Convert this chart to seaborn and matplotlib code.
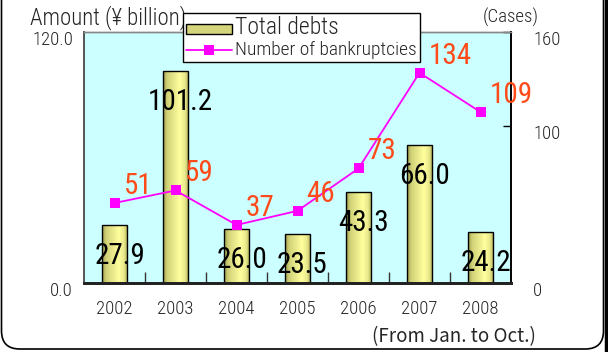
import numpy as np
import matplotlib
matplotlib.use("Agg")
import matplotlib.pyplot as plt
import matplotlib.transforms as mtransforms
from matplotlib.patches import Patch, FancyBboxPatch
from matplotlib.lines import Line2D
import seaborn as sns

# Data
years = ["2002", "2003", "2004", "2005", "2006", "2007", "2008"]
total_debts = [27.9, 101.2, 26.0, 23.5, 43.3, 66.0, 24.2]      # ¥ billion
bankruptcies = [51, 59, 37, 46, 73, 134, 109]                   # cases
left_ticks = [0, 120]
left_ticklabels = ["0.0", "120.0"]
right_ticks = [0, 100, 160]
right_ticklabels = ["0", "100", "160"]

sns.set_theme(style="white")
plt.rcParams["font.family"] = ["Roboto Condensed", "DejaVu Sans"]
plt.rcParams["font.weight"] = "light"

W, H = 608, 352
fig = plt.figure(figsize=(W / 100, H / 100), dpi=100)
fig.patch.set_facecolor("white")

# rounded outer frame
frame = FancyBboxPatch((1.5 / W, 3.0 / H), (603.5 - 1.5) / W, 1.2,
                       boxstyle="round,pad=0,rounding_size=0.03",
                       transform=fig.transFigure, facecolor="none",
                       edgecolor="black", linewidth=1.2, zorder=0,
                       mutation_aspect=W / H)
fig.patches.append(frame)
fig.add_artist(Line2D([605.5 / W, 605.5 / W], [0.0, 1.0], transform=fig.transFigure,
                      color="black", linewidth=2.5))

ax = fig.add_axes([84 / W, (H - 283) / H, (511 - 84) / W, (283 - 32) / H])
ax.set_facecolor("#CCFFFF")

sns.barplot(x=years, y=total_debts, ax=ax, width=0.41, color="#F0F090",
            saturation=1, edgecolor="black", linewidth=1.0, zorder=2)

# cylinder-style shading on each bar
grad = np.linspace(0, 1, 64)
shade = np.interp(grad, [0, 0.15, 0.65, 0.85, 1.0], [0.55, 0.78, 1.0, 0.9, 0.62])
base_dark = np.array([0.62, 0.62, 0.30])
base_light = np.array([1.0, 1.0, 0.62])
rgb = base_dark[None, :] + (base_light - base_dark)[None, :] * ((shade - 0.55) / 0.45)[:, None]
img = rgb[None, :, :]
for p in list(ax.patches):
    x0, y0 = p.get_x(), p.get_y()
    w, h = p.get_width(), p.get_height()
    im = ax.imshow(img, extent=[x0, x0 + w, y0, y0 + h], aspect="auto",
                   zorder=p.get_zorder() - 0.01, interpolation="bilinear")
    im.set_clip_path(p)
    p.set_facecolor("none")
ax.set_ylim(0, 120)
ax.set_xlim(-0.5, len(years) - 0.5)

# bar value labels
for i, v in enumerate(total_debts):
    off = mtransforms.offset_copy(ax.transData, fig=fig, x=5, y=-31, units="dots")
    ax.text(i, v, f"{v:.1f}", transform=off, ha="center", va="center",
            fontsize=21, color="black", zorder=5, fontweight="normal")

ax2 = ax.twinx()
sns.pointplot(x=years, y=bankruptcies, ax=ax2, color="#FF00FF", markers="s",
              errorbar=None, linewidth=1.3, markersize=7)
ax2.set_ylim(0, 160)
ax2.set_xlim(-0.5, len(years) - 0.5)
for line in ax2.lines:
    line.set_markeredgewidth(0)

for i, v in enumerate(bankruptcies):
    off = mtransforms.offset_copy(ax2.transData, fig=fig, x=9, y=17, units="dots")
    ax2.text(i, v, f"{v}", transform=off, ha="left", va="center",
             fontsize=21, color="#FF4A1A", zorder=5, fontweight="normal")

# axes styling
ax.set_xlabel("")
ax.set_ylabel("")
ax2.set_xlabel("")
ax2.set_ylabel("")
ax.set_xticks(range(len(years)))
ax.set_xticklabels(years, fontsize=13.5)
ax.set_xticks(np.arange(0.5, len(years) - 0.5, 1.0), minor=True)
ax.tick_params(axis="x", which="major", length=0, pad=12)
ax.tick_params(axis="x", which="minor", direction="in", length=8, width=1,
               color="#333333", bottom=True)
ax.set_yticks(left_ticks)
ax.set_yticklabels(left_ticklabels, fontsize=13.5)
ax.tick_params(axis="y", length=0, pad=8)
ax2.set_yticks(right_ticks)
ax2.set_yticklabels(right_ticklabels, fontsize=13.5)
ax2.tick_params(axis="y", direction="in", length=6, width=1, color="black", pad=16)
shift = mtransforms.ScaledTranslation(0, -6 / 100, fig.dpi_scale_trans)
for lab in ax.get_yticklabels() + ax2.get_yticklabels():
    lab.set_transform(lab.get_transform() + shift)

for a in (ax, ax2):
    a.spines["left"].set_color("#555555")
    a.spines["left"].set_linewidth(1.2)
    a.spines["top"].set_color("#888888")
    a.spines["top"].set_linewidth(1.0)
    a.spines["right"].set_color("black")
    a.spines["right"].set_linewidth(1.2)
    a.spines["bottom"].set_color("#222222")
    a.spines["bottom"].set_linewidth(2.0)
    for s in a.spines.values():
        s.set_visible(True)

# axis titles and note
fig.text(30 / W, 1 - 18 / H, "Amount (¥ billion)", fontsize=16.5, ha="left", va="center")
fig.text(483 / W, 1 - 17 / H, "(Cases)", fontsize=13.5, ha="left", va="center")
fig.text(372 / W, 1 - 337 / H, "(From Jan. to Oct.)", fontsize=13.5, ha="left",
         va="center", family=["Noto Sans CJK JP", "DejaVu Sans"], fontweight="normal")

# legend
handles = [Patch(facecolor="#D4D47A", edgecolor="black", linewidth=1.0),
           Line2D([], [], color="#FF00FF", linewidth=1.3, marker="s",
                  markersize=7, markeredgewidth=0)]
leg = fig.legend(handles, ["Total debts", "Number of bankruptcies"],
                 loc="upper left", bbox_to_anchor=(183 / W, 1 - 13 / H),
                 bbox_transform=fig.transFigure, frameon=True, fancybox=False,
                 framealpha=1, edgecolor="black", borderpad=0.2,
                 handlelength=3.0, handleheight=0.6, handletextpad=0.2,
                 labelspacing=0.15, borderaxespad=0)
leg.get_frame().set_linewidth(1.0)
leg.get_texts()[0].set_fontsize(17)
leg.get_texts()[1].set_fontsize(14)
leg.set_zorder(10)

fig.savefig("out.png", dpi=100, facecolor="white")
